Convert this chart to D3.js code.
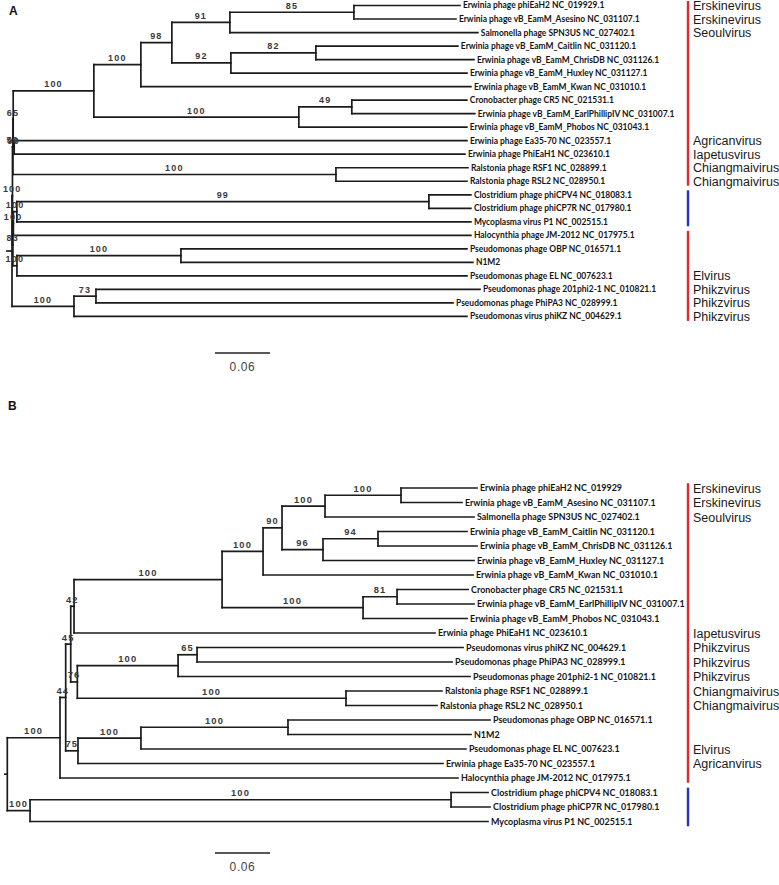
<!DOCTYPE html>
<html><head><meta charset="utf-8">
<script src="https://cdn.jsdelivr.net/npm/d3@7"></script>
<style>body{margin:0;background:#fff}</style>
</head><body><svg id="c" width="779" height="885"></svg>
<script>
// ---- Tree A: [node, parent, branch length, bootstrap] ----
const treeA = [
 ["R", "", 0, ""],
 ["K1","R",0.0005,"100"],
 ["K2","K1",0.0005,"50"],
 ["X65","K2",0.0003,"65"],
 ["C1","X65",0.0880,"100"],
 ["C141","C1",0.0513,"100"],
 ["N98","C141",0.0338,"98"],
 ["N91","N98",0.0633,"91"],
 ["N85","N91",0.1353,"85"],
 ["Erwinia phage phiEaH2 NC_019929.1","N85",0.1156,""],
 ["Erwinia phage vB_EamM_Asesino NC_031107.1","N85",0.1113,""],
 ["Salmonella phage SPN3US NC_027402.1","N91",0.2705,""],
 ["N92","N98",0.0644,"92"],
 ["N82","N92",0.0927,"82"],
 ["Erwinia phage vB_EamM_Caitlin NC_031120.1","N82",0.1549,""],
 ["Erwinia phage vB_EamM_ChrisDB NC_031126.1","N82",0.1724,""],
 ["Erwinia phage vB_EamM_Huxley NC_031127.1","N92",0.2575,""],
 ["Erwinia phage vB_EamM_Kwan NC_031010.1","C141",0.3600,""],
 ["C299","C1",0.2236,"100"],
 ["N49","C299",0.0578,"49"],
 ["Cronobacter phage CR5 NC_021531.1","N49",0.1255,""],
 ["Erwinia phage vB_EamM_EarlPhillipIV NC_031007.1","N49",0.1342,""],
 ["Erwinia phage vB_EamM_Phobos NC_031043.1","C299",0.1833,""],
 ["X","X65",0.0011,"90"],
 ["Erwinia phage Ea35-70 NC_023557.1","X",0.4939,""],
 ["Erwinia phage PhiEaH1 NC_023610.1","X",0.4917,""],
 ["RS","K2",0.3524,"100"],
 ["Ralstonia phage RSF1 NC_028899.1","RS",0.1440,""],
 ["Ralstonia phage RSL2 NC_028950.1","RS",0.1429,""],
 ["M83","K1",0.0005,"83"],
 ["M","M83",0.0005,"100"],
 ["N17","M",0.0038,"100"],
 ["PCP","N17",0.4495,"99"],
 ["Clostridium phage phiCPV4 NC_018083.1","PCP",0.0458,""],
 ["Clostridium phage phiCP7R NC_017980.1","PCP",0.0458,""],
 ["Mycoplasma virus P1 NC_002515.1","N17",0.4953,""],
 ["Halocynthia phage JM-2012 NC_017975.1","M",0.4991,""],
 ["N17b","M83",0.0044,"100"],
 ["OBPN","N17b",0.1789,"100"],
 ["Pseudomonas phage OBP NC_016571.1","OBPN",0.3120,""],
 ["N1M2","OBPN",0.3185,""],
 ["Pseudomonas phage EL NC_007623.1","N17b",0.4909,""],
 ["PZ","R",0.0676,"100"],
 ["PZ73","PZ",0.0240,"73"],
 ["Pseudomonas phage 201phi2-1 NC_010821.1","PZ73",0.4189,""],
 ["Pseudomonas phage PhiPA3 NC_028999.1","PZ73",0.3895,""],
 ["Pseudomonas virus phiKZ NC_004629.1","PZ",0.4287,""]
];
const rootStubA = 0.0064;

// ---- Tree B ----
const treeB = [
 ["R","",0,""],
 ["N60","R",0.0575,"100"],
 ["N66","N60",0.0062,"44"],
 ["N45","N66",0.0055,"45"],
 ["N42","N45",0.0036,"42"],
 ["N100b","N42",0.1615,"100"],
 ["Nup","N100b",0.0447,"100"],
 ["N90","Nup",0.0207,"90"],
 ["NA","N90",0.0469,"100"],
 ["Npa","NA",0.0829,"100"],
 ["Erwinia phage phiEaH2 NC_019929","Npa",0.0829,""],
 ["Erwinia phage vB_EamM_Asesino NC_031107.1","Npa",0.0665,""],
 ["Salmonella phage SPN3US NC_027402.1","NA",0.1625,""],
 ["N96","N90",0.0447,"96"],
 ["N94","N96",0.0600,"94"],
 ["Erwinia phage vB_EamM_Caitlin NC_031120.1","N94",0.0971,""],
 ["Erwinia phage vB_EamM_ChrisDB NC_031126.1","N94",0.1080,""],
 ["Erwinia phage vB_EamM_Huxley NC_031127.1","N96",0.1647,""],
 ["Erwinia phage vB_EamM_Kwan NC_031010.1","Nup",0.2291,""],
 ["N363","N100b",0.1538,"100"],
 ["N81","N363",0.0371,"81"],
 ["Cronobacter phage CR5 NC_021531.1","N81",0.0775,""],
 ["Erwinia phage vB_EamM_EarlPhillipIV NC_031007.1","N81",0.0840,""],
 ["Erwinia phage vB_EamM_Phobos NC_031043.1","N363",0.1135,""],
 ["Erwinia phage PhiEaH1 NC_023610.1","N42",0.3938,""],
 ["N76","N45",0.0072,"76"],
 ["N178","N76",0.1099,"100"],
 ["N65","N178",0.0207,"65"],
 ["Pseudomonas virus phiKZ NC_004629.1","N65",0.2902,""],
 ["Pseudomonas phage PhiPA3 NC_028999.1","N65",0.2782,""],
 ["Pseudomonas phage 201phi2-1 NC_010821.1","N178",0.3185,""],
 ["N346","N76",0.2931,"100"],
 ["Ralstonia phage RSF1 NC_028899.1","N346",0.1047,""],
 ["Ralstonia phage RSL2 NC_028950.1","N346",0.0993,""],
 ["N75","N66",0.0134,"75"],
 ["N141","N75",0.0687,"100"],
 ["N288","N141",0.1604,"100"],
 ["Pseudomonas phage OBP NC_016571.1","N288",0.2204,""],
 ["N1M2","N288",0.1996,""],
 ["Pseudomonas phage EL NC_007623.1","N141",0.3545,""],
 ["Erwinia phage Ea35-70 NC_023557.1","N75",0.3982,""],
 ["Halocynthia phage JM-2012 NC_017975.1","N60",0.4342,""],
 ["N30","R",0.0248,"100"],
 ["NCP","N30",0.4593,"100"],
 ["Clostridium phage phiCPV4 NC_018083.1","NCP",0.0404,""],
 ["Clostridium phage phiCP7R NC_017980.1","NCP",0.0425,""],
 ["Mycoplasma virus P1 NC_002515.1","N30",0.4996,""]
];
const rootStubB = 0.0035;

// ---- Genus annotations [tip, genus] ----
const genusA = [
 ["Erwinia phage phiEaH2 NC_019929.1","Erskinevirus"],
 ["Erwinia phage vB_EamM_Asesino NC_031107.1","Erskinevirus"],
 ["Salmonella phage SPN3US NC_027402.1","Seoulvirus"],
 ["Erwinia phage Ea35-70 NC_023557.1","Agricanvirus"],
 ["Erwinia phage PhiEaH1 NC_023610.1","Iapetusvirus"],
 ["Ralstonia phage RSF1 NC_028899.1","Chiangmaivirus"],
 ["Ralstonia phage RSL2 NC_028950.1","Chiangmaivirus"],
 ["Pseudomonas phage EL NC_007623.1","Elvirus"],
 ["Pseudomonas phage 201phi2-1 NC_010821.1","Phikzvirus"],
 ["Pseudomonas phage PhiPA3 NC_028999.1","Phikzvirus"],
 ["Pseudomonas virus phiKZ NC_004629.1","Phikzvirus"]
];
const genusB = [
 ["Erwinia phage phiEaH2 NC_019929","Erskinevirus"],
 ["Erwinia phage vB_EamM_Asesino NC_031107.1","Erskinevirus"],
 ["Salmonella phage SPN3US NC_027402.1","Seoulvirus"],
 ["Erwinia phage PhiEaH1 NC_023610.1","Iapetusvirus"],
 ["Pseudomonas virus phiKZ NC_004629.1","Phikzvirus"],
 ["Pseudomonas phage PhiPA3 NC_028999.1","Phikzvirus"],
 ["Pseudomonas phage 201phi2-1 NC_010821.1","Phikzvirus"],
 ["Ralstonia phage RSF1 NC_028899.1","Chiangmaivirus"],
 ["Ralstonia phage RSL2 NC_028950.1","Chiangmaivirus"],
 ["Pseudomonas phage EL NC_007623.1","Elvirus"],
 ["Erwinia phage Ea35-70 NC_023557.1","Agricanvirus"]
];
// ---- Side bars [group, first tip, last tip] ----
const groupsA = [
 ["jumbo","Erwinia phage phiEaH2 NC_019929.1","Ralstonia phage RSL2 NC_028950.1"],
 ["other","Clostridium phage phiCPV4 NC_018083.1","Mycoplasma virus P1 NC_002515.1"],
 ["jumbo","Halocynthia phage JM-2012 NC_017975.1","Pseudomonas virus phiKZ NC_004629.1"]
];
const groupsB = [
 ["jumbo","Erwinia phage phiEaH2 NC_019929","Halocynthia phage JM-2012 NC_017975.1"],
 ["other","Clostridium phage phiCPV4 NC_018083.1","Mycoplasma virus P1 NC_002515.1"]
];
const scaleValue = 0.06;

const groupColor = d3.scaleOrdinal().domain(["jumbo","other"]).range(["#dc2a2f","#2633c2"]);
const svg = d3.select("#c");
const TIPFONT = "Lato, 'Open Sans', sans-serif";

function calibrate(ref, target){
  const t = svg.append("text").attr("font-family",TIPFONT).attr("font-weight",700).attr("font-size",10).text(ref);
  const w = t.node().getComputedTextLength(); t.remove();
  return 10*target/w;
}

function drawPanel(cfg){
  const g = svg.append("g");
  const root = d3.stratify().id(d=>d[0]).parentId(d=>d[1]||null)(cfg.rows);
  root.eachBefore(n=>{ n.dist = n.parent ? n.parent.dist + n.data[2] : 0; });
  const leaves = root.leaves();
  const x = d3.scaleLinear().domain([0, scaleValue]).range([cfg.rootX, cfg.rootX + cfg.unitPx]);
  const y = d3.scaleLinear().domain([0, leaves.length-1]).range([cfg.yTop, cfg.yTop + cfg.yStep*(leaves.length-1)]);
  leaves.forEach((l,i)=>{ l.py = y(i); });
  root.eachAfter(n=>{
    n.px = x(n.dist);
    if(n.children) n.py = (n.children[0].py + n.children[n.children.length-1].py)/2;
  });
  const byId = new Map(root.descendants().map(d=>[d.id,d]));
  const stroke = "#1b1b1b", sw = 1.7;
  g.selectAll("line.h").data(root.descendants().filter(d=>d.parent)).join("line")
    .attr("x1",d=>d.parent.px).attr("x2",d=>d.px).attr("y1",d=>d.py).attr("y2",d=>d.py)
    .attr("stroke",stroke).attr("stroke-width",sw).attr("stroke-linecap","square");
  g.selectAll("line.v").data(root.descendants().filter(d=>d.children)).join("line")
    .attr("x1",d=>d.px).attr("x2",d=>d.px)
    .attr("y1",d=>d.children[0].py).attr("y2",d=>d.children[d.children.length-1].py)
    .attr("stroke",stroke).attr("stroke-width",sw).attr("stroke-linecap","square");
  g.append("line").attr("x1",x(-cfg.stub)).attr("x2",root.px).attr("y1",root.py).attr("y2",root.py)
    .attr("stroke",stroke).attr("stroke-width",sw);
  g.selectAll("text.bs").data(root.descendants().filter(d=>d.data[3])).join("text")
    .attr("x",d=>(d.parent.px+d.px)/2).attr("y",d=>d.py-3.5)
    .attr("text-anchor","middle").attr("font-family","'Liberation Sans', Arial, sans-serif")
    .attr("font-size",cfg.bsSize).attr("font-weight",700).attr("letter-spacing","1.2px")
    .attr("fill","#3a3a3a").text(d=>d.data[3]);
  const fs = calibrate("Erwinia phage vB_EamM_Asesino NC_031107.1", cfg.refWidth);
  g.selectAll("text.tip").data(leaves).join("text")
    .attr("x",d=>d.px+3).attr("y",d=>d.py).attr("dy","0.35em")
    .attr("font-family",TIPFONT).attr("font-weight",700).attr("font-size",fs)
    .attr("fill","#151515").text(d=>d.id);
  g.selectAll("line.bar").data(cfg.groups).join("line")
    .attr("x1",cfg.barX).attr("x2",cfg.barX)
    .attr("y1",d=>byId.get(d[1]).py - cfg.yStep*0.33)
    .attr("y2",d=>byId.get(d[2]).py + cfg.yStep*0.33)
    .attr("stroke",d=>groupColor(d[0])).attr("stroke-width",2.4);
  g.selectAll("text.gen").data(cfg.genus).join("text")
    .attr("x",cfg.barX+5).attr("y",d=>byId.get(d[0]).py).attr("dy","0.36em")
    .attr("font-family","'Liberation Sans', Arial, sans-serif").attr("font-size",12.5)
    .attr("fill","#1a1a1a").text(d=>d[1]);
  g.append("line").attr("x1",cfg.scaleX).attr("x2",cfg.scaleX + (x(scaleValue)-x(0)))
    .attr("y1",cfg.scaleY).attr("y2",cfg.scaleY).attr("stroke","#222").attr("stroke-width",1.5);
  g.append("text").attr("x",cfg.scaleX + (x(scaleValue)-x(0))/2).attr("y",cfg.scaleY+18)
    .attr("text-anchor","middle").attr("font-family","'Liberation Sans', Arial, sans-serif")
    .attr("font-size",12).attr("letter-spacing","0.6px").attr("fill","#444").text(scaleValue.toFixed(2));
  g.append("text").attr("x",cfg.letterX).attr("y",cfg.letterY)
    .attr("font-family","'Liberation Sans', Arial, sans-serif").attr("font-weight",700)
    .attr("font-size",12).attr("fill","#111").text(cfg.letter);
}

drawPanel({rows:treeA, stub:rootStubA, rootX:12, unitPx:55, yTop:5.5, yStep:13.52,
  bsSize:9, refWidth:181, barX:688, groups:groupsA, genus:genusA,
  scaleX:215, scaleY:353, letter:"A", letterX:9, letterY:15});
drawPanel({rows:treeB, stub:rootStubB, rootX:7.3, unitPx:55, yTop:488, yStep:14.5,
  bsSize:9.3, refWidth:191, barX:688, groups:groupsB, genus:genusB,
  scaleX:215, scaleY:853, letter:"B", letterX:8, letterY:410});
</script>
</body></html>
